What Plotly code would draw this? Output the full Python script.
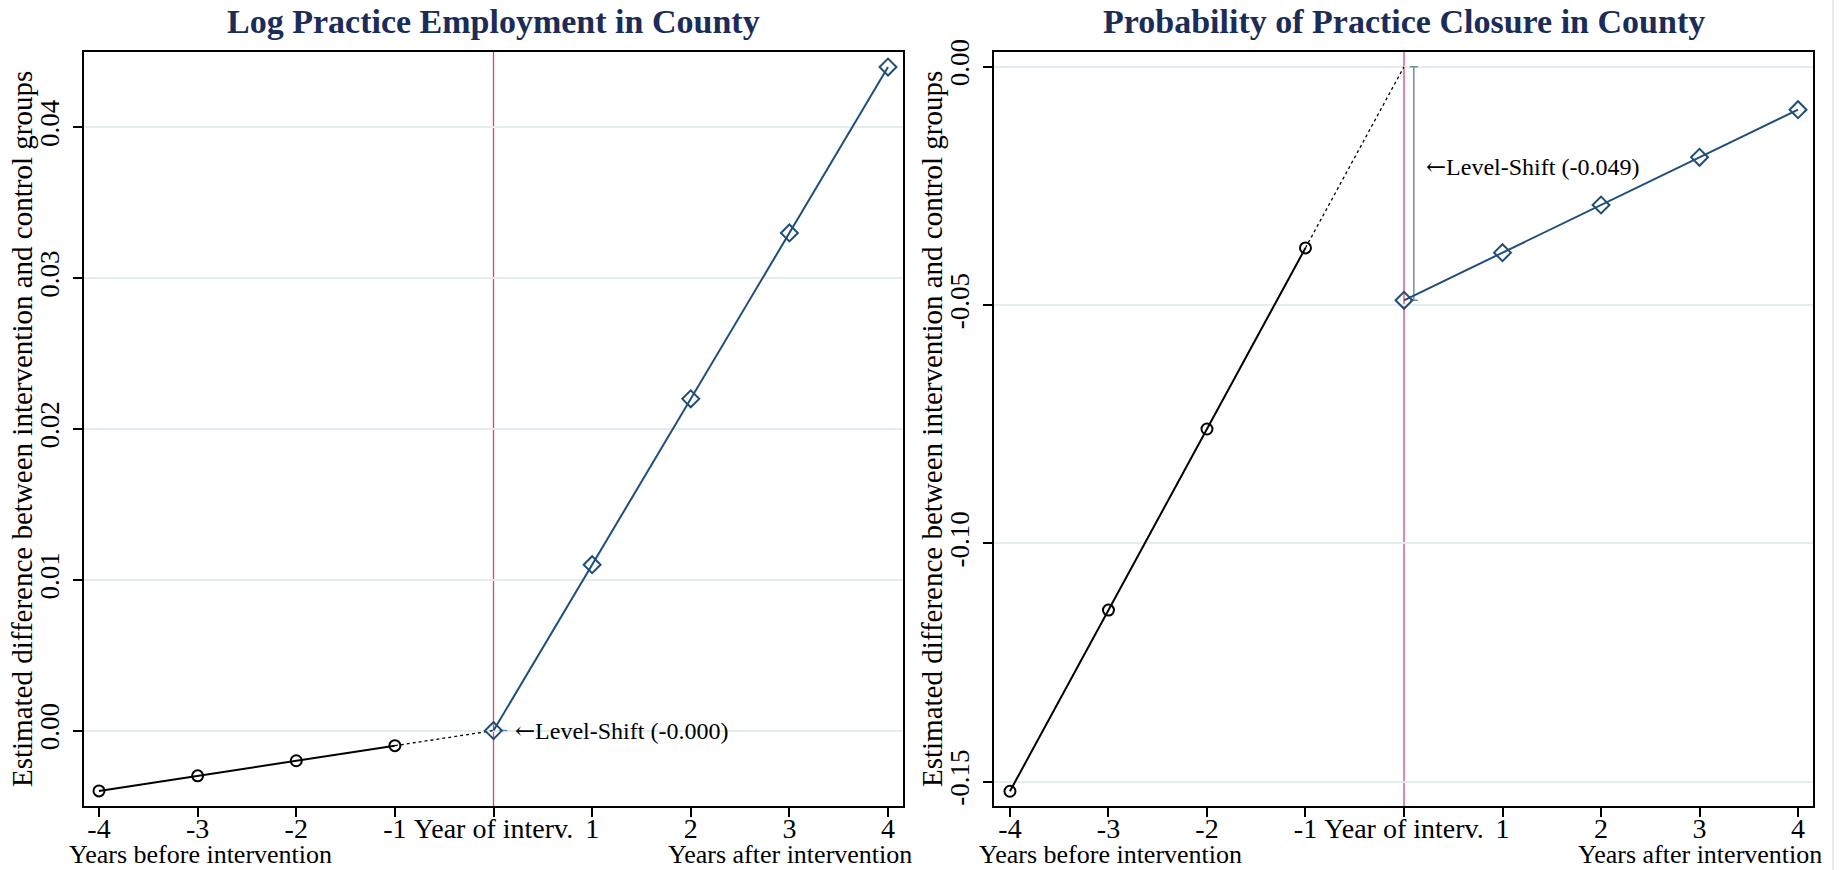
import plotly.graph_objects as go

# ---------------- data ----------------
years = [-4, -3, -2, -1, 0, 1, 2, 3, 4]
x_tick_labels = ["-4", "-3", "-2", "-1", "Year of interv.", "1", "2", "3", "4"]
pre_years = [-4, -3, -2, -1]
post_years = [0, 1, 2, 3, 4]

emp_pre = [-0.004, -0.003, -0.002, -0.001]
emp_post = [0.000, 0.011, 0.022, 0.033, 0.044]
emp_trend_at_interv = 0.000
emp_shift_label = "Level-Shift (-0.000)"
emp_y_ticks = [0.00, 0.01, 0.02, 0.03, 0.04]
emp_y_ticktext = ["0.00", "0.01", "0.02", "0.03", "0.04"]

clo_pre = [-0.152, -0.114, -0.076, -0.038]
clo_post = [-0.049, -0.039, -0.029, -0.019, -0.009]
clo_trend_at_interv = 0.000
clo_shift_label = "Level-Shift (-0.049)"
clo_y_ticks = [-0.15, -0.10, -0.05, 0.00]
clo_y_ticktext = ["-0.15", "-0.10", "-0.05", "0.00"]

titles = ["Log Practice Employment in County", "Probability of Practice Closure in County"]
y_title = "Estimated difference between intervention and control groups"
x_left_note = "Years before intervention"
x_right_note = "Years after intervention"

# ---------------- style ----------------
W, H = 1847, 870
FONT = "Liberation Serif, Times New Roman, serif"
NAVY = "#1f4e79"
TITLE_C = "#1c2c58"
RED = "#d9466d"
SHIFT_C = "#6c8db0"
GRID_C = "#e3ecef"
ARROW = "<span style=\"font-family:'DejaVu Serif'\">←</span>"

def px_x(p):
    return p / W

def px_y(p):
    return 1 - p / H

panels = [
    dict(pre=emp_pre, post=emp_post, trend=emp_trend_at_interv, label=emp_shift_label,
         yt=emp_y_ticks, ytt=emp_y_ticktext, yr=[-0.005, 0.045], xr=[-4.152, 4.152],
         dom=[84, 903], label_shift=0, ytitle_x=22),
    dict(pre=clo_pre, post=clo_post, trend=clo_trend_at_interv, label=clo_shift_label,
         yt=clo_y_ticks, ytt=clo_y_ticktext, yr=[-0.1551, 0.0031], xr=[-4.162, 4.152],
         dom=[994, 1813], label_shift=17, ytitle_x=932),
]

fig = go.Figure()
annotations = []
shapes = []
layout_axes = {}

for i, p in enumerate(panels):
    sfx = "" if i == 0 else str(i + 1)
    xa, ya = "x" + sfx, "y" + sfx

    # dotted connector from last pre-period point to the trend value at intervention
    fig.add_trace(go.Scatter(x=[pre_years[-1], post_years[0]], y=[p["pre"][-1], p["trend"]],
                             mode="lines", line=dict(color="black", width=1.3, dash="dot"),
                             xaxis=xa, yaxis=ya, hoverinfo="skip"))
    # level-shift bracket
    fig.add_trace(go.Scatter(x=[post_years[0] + 0.1], y=[p["post"][0]], mode="markers",
                             marker=dict(size=1, opacity=0),
                             error_y=dict(type="data", symmetric=False,
                                          array=[p["trend"] - p["post"][0]], arrayminus=[0],
                                          width=4, thickness=1.5, color=SHIFT_C),
                             xaxis=xa, yaxis=ya, hoverinfo="skip"))
    # pre-period
    fig.add_trace(go.Scatter(x=pre_years, y=p["pre"], mode="lines+markers",
                             line=dict(color="black", width=2),
                             marker=dict(symbol="circle-open", size=11, color="black",
                                         line=dict(width=2, color="black")),
                             xaxis=xa, yaxis=ya))
    # post-period
    fig.add_trace(go.Scatter(x=post_years, y=p["post"], mode="lines+markers",
                             line=dict(color=NAVY, width=2),
                             marker=dict(symbol="diamond-open", size=13, color=NAVY,
                                         line=dict(width=2, color=NAVY)),
                             xaxis=xa, yaxis=ya))

    dom_x = [px_x(p["dom"][0]), px_x(p["dom"][1])]
    layout_axes["xaxis" + sfx] = dict(
        domain=dom_x, range=p["xr"], anchor=ya, tickmode="array", tickvals=years,
        ticktext=x_tick_labels, ticks="outside", ticklen=9, tickwidth=1.5, tickcolor="black",
        showline=True, mirror=True, linecolor="black", linewidth=1.5, showgrid=False,
        zeroline=False, tickfont=dict(family=FONT, size=28, color="black"),
        ticklabelstandoff=-12, automargin=False)
    layout_axes["yaxis" + sfx] = dict(
        domain=[px_y(806), px_y(52)], range=p["yr"], anchor=xa, tickmode="array",
        tickvals=p["yt"], ticktext=p["ytt"], tickangle=-90, ticks="outside", ticklen=9,
        tickwidth=1.5, tickcolor="black", showline=True, mirror=True, linecolor="black",
        linewidth=1.5, showgrid=True, gridcolor=GRID_C, gridwidth=1.5, zeroline=False,
        tickfont=dict(family=FONT, size=27, color="black"), ticklabelstandoff=3,
        automargin=False)

    # vertical line at year of intervention
    shapes.append(dict(type="line", xref=xa, yref=ya + " domain", x0=0, x1=0, y0=0, y1=1,
                       line=dict(color=RED, width=1.3), layer="below"))

    # title
    annotations.append(dict(text="<b>" + titles[i] + "</b>", xref=xa + " domain", x=0.5,
                            yref="paper", y=px_y(21), xanchor="center", yanchor="middle",
                            showarrow=False, font=dict(family=FONT, size=34, color=TITLE_C)))
    # y title
    annotations.append(dict(text=y_title, xref="paper", x=px_x(p["ytitle_x"]), yref=ya + " domain",
                            y=0.5, textangle=-90, xanchor="center", yanchor="middle",
                            showarrow=False, font=dict(family=FONT, size=29, color="black")))
    # x notes
    annotations.append(dict(text=x_left_note, xref=xa + " domain", x=0, xshift=-17, xanchor="left",
                            yref="paper", y=px_y(854), yanchor="middle", showarrow=False,
                            font=dict(family=FONT, size=26, color="black")))
    annotations.append(dict(text=x_right_note, xref=xa + " domain", x=1, xshift=11, xanchor="right",
                            yref="paper", y=px_y(854), yanchor="middle", showarrow=False,
                            font=dict(family=FONT, size=26, color="black")))
    # level-shift label
    annotations.append(dict(text=ARROW + p["label"], xref=xa, x=post_years[0] + 0.2, yref=ya,
                            y=(p["trend"] + p["post"][0]) / 2, yshift=p["label_shift"],
                            xanchor="left", yanchor="middle", showarrow=False,
                            font=dict(family=FONT, size=24, color="black")))

shapes.append(dict(type="line", xref="paper", yref="paper", x0=px_x(1833), x1=px_x(1833),
                   y0=0, y1=1, line=dict(color="#e4e4e4", width=1.5)))

fig.update_layout(
    width=W, height=H, margin=dict(l=0, r=0, t=0, b=0), showlegend=False,
    paper_bgcolor="white", plot_bgcolor="white", font=dict(family=FONT),
    annotations=annotations, shapes=shapes, **layout_axes)

fig.write_html("out.html", config={"displayModeBar": False},
               post_script="document.body.style.margin='0';document.body.style.overflow='hidden';")
